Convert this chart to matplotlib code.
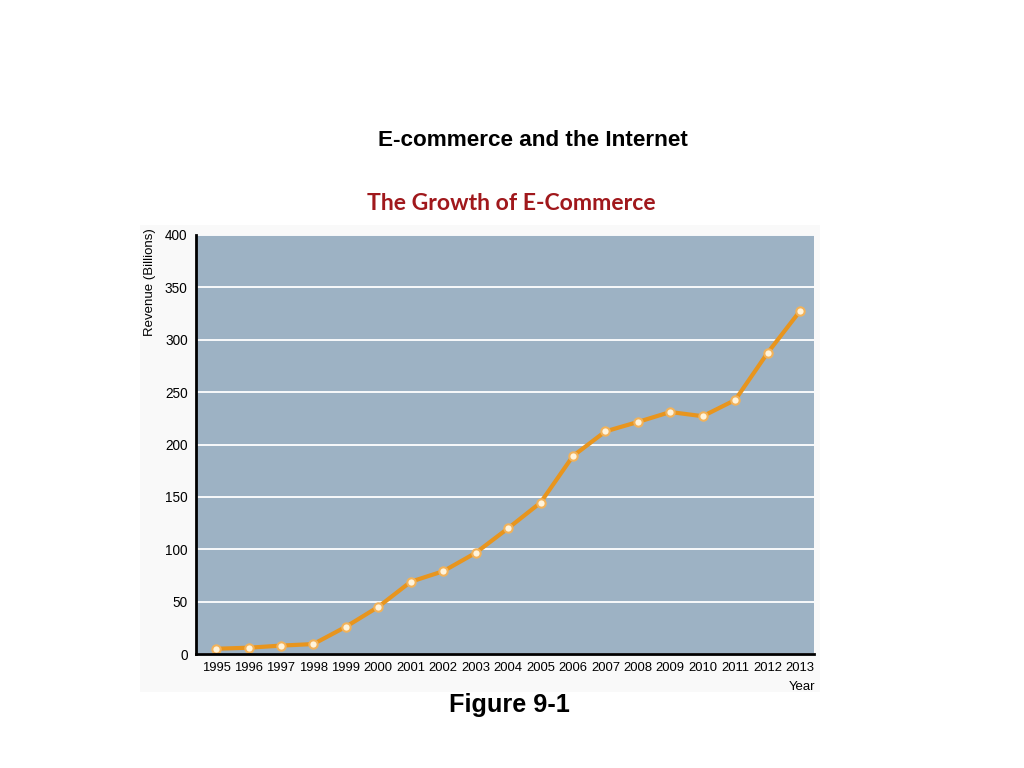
import matplotlib
matplotlib.use('Agg')
import matplotlib.pyplot as plt
from matplotlib.patches import Rectangle

# revenue in billions
years = list(range(1995, 2014))
revenue = [5, 6, 8, 9.5, 26, 45, 69, 79, 96.5, 120, 144.5, 189, 212.5, 221.5,
           231, 227, 242.5, 287.5, 327.5]
y_ticks = [0, 50, 100, 150, 200, 250, 300, 350, 400]

plt.rcParams['font.family'] = ['Liberation Sans', 'DejaVu Sans']

fig = plt.figure(figsize=(10.24, 7.68), dpi=100, facecolor='white')

# faint grey backdrop behind the chart image
fig.patches.append(Rectangle((140 / 1024, 1 - 692 / 768), 680 / 1024, 467 / 768,
                             transform=fig.transFigure, facecolor='#f9f9f9',
                             edgecolor='none', zorder=-5))

ax = fig.add_axes([196 / 1024, 1 - 654 / 768, 618 / 1024, 419 / 768])
ax.set_zorder(2)
ax.set_facecolor('#9db2c4')

ax.plot(years, revenue, color='#e8951e', lw=3, zorder=3,
        marker='o', ms=6, mfc='#fff4dc', mec='#f2b25a', mew=1.5)

ax.set_xlim(1994.38, 2013.43)
ax.set_ylim(0, 400)
ax.set_xticks(years)
ax.set_yticks(y_ticks)
ax.tick_params(length=0, colors='black')
ax.tick_params(axis='y', pad=6, labelsize=9.8)
ax.tick_params(axis='x', pad=6, labelsize=9.4)
ax.grid(axis='y', color='white', lw=1.3, zorder=1)
ax.set_axisbelow(True)

for s in ['top', 'right']:
    ax.spines[s].set_visible(False)
for s in ['left', 'bottom']:
    ax.spines[s].set_color('black')
    ax.spines[s].set_linewidth(2)
    ax.spines[s].set_zorder(4)

fig.text(150 / 1024, 1 - 228 / 768, 'Revenue (Billions)', rotation=90,
         ha='center', va='top', fontsize=9.5)
fig.text(815 / 1024, 1 - 687 / 768, 'Year', ha='right', va='center', fontsize=9.5)

fig.text(533 / 1024, 1 - 140 / 768, 'E-commerce and the Internet',
         ha='center', va='center', fontsize=16.2, fontweight='bold')
fig.text(511 / 1024, 1 - 204 / 768, 'The Growth of E-Commerce',
         ha='center', va='center', fontsize=16.6, fontweight='bold',
         color='#a0181c', family=['Lato', 'DejaVu Sans'])
fig.text(509 / 1024, 1 - 705 / 768, 'Figure 9-1',
         ha='center', va='center', fontsize=18.2, fontweight='bold')

fig.savefig('out.png', dpi=100, facecolor='white')
